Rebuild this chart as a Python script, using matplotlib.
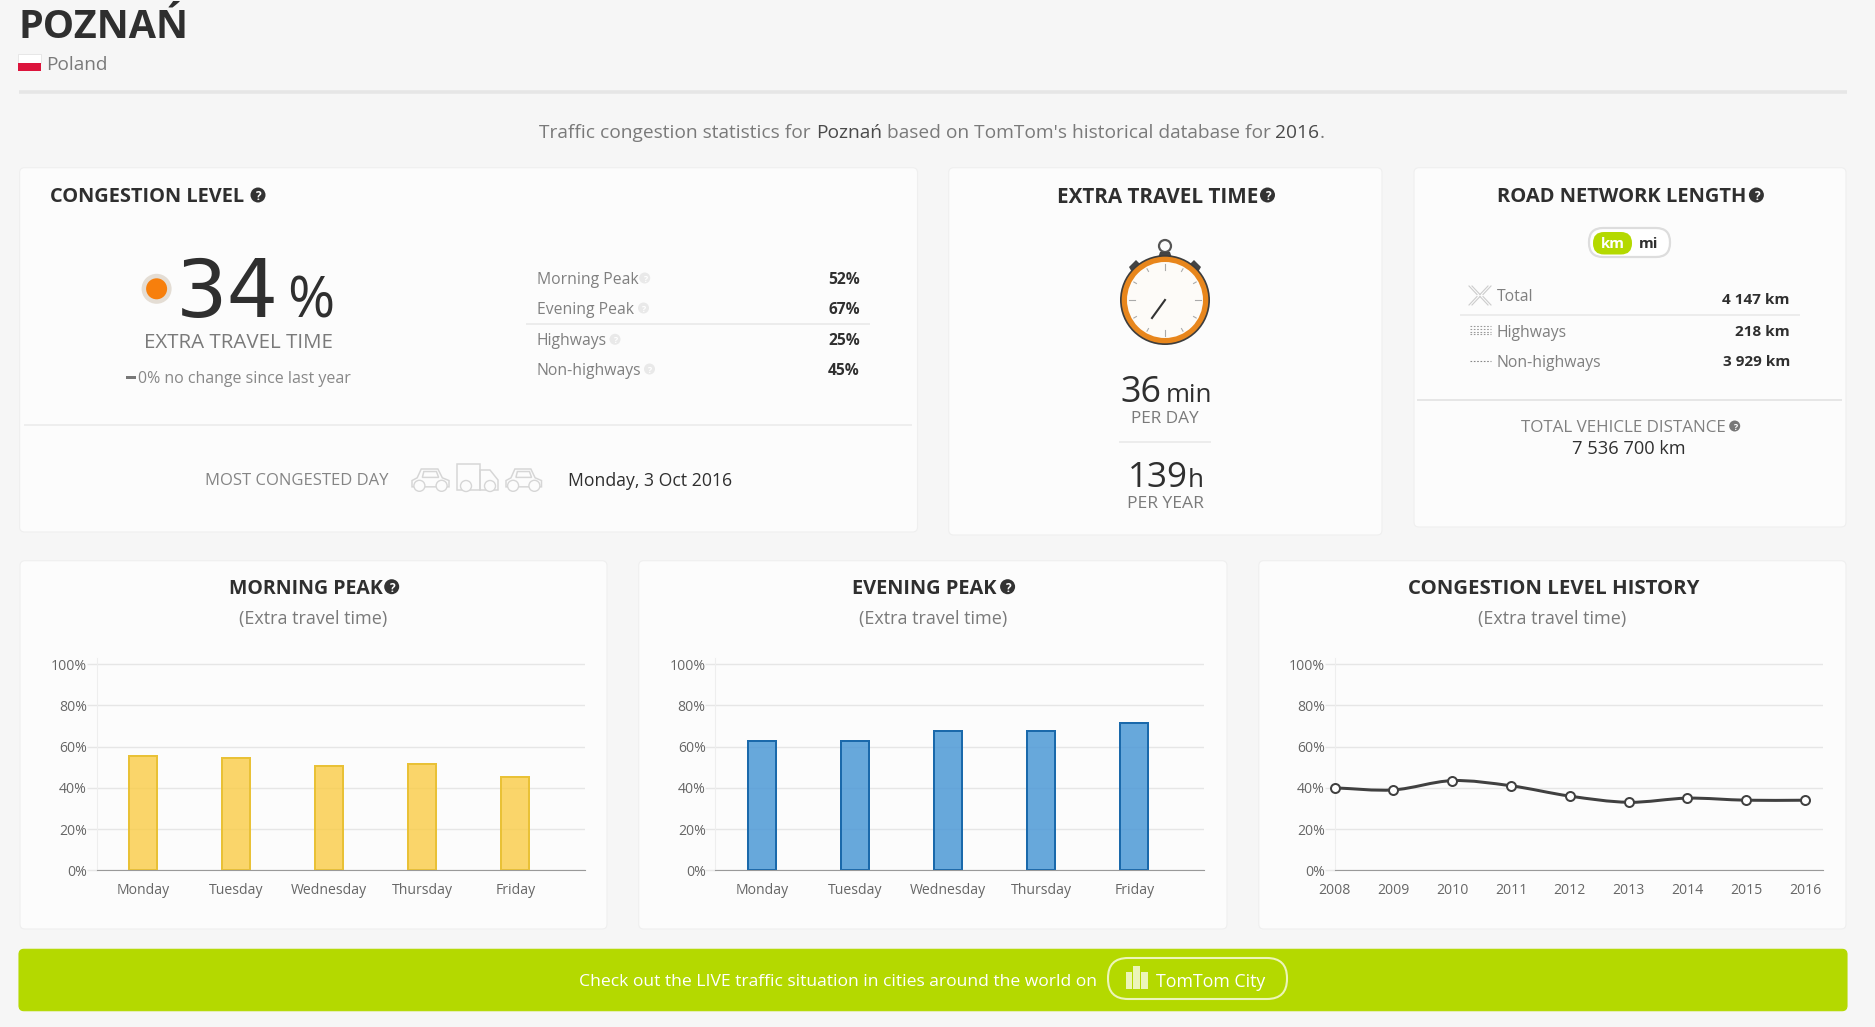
from matplotlib import pyplot as plt
from matplotlib.patches import Circle, FancyBboxPatch, PathPatch, Polygon, Rectangle
from matplotlib.path import Path
import numpy as np

W, H = 1875, 1027
plt.rcParams['font.family'] = ['Open Sans', 'DejaVu Sans']

# data
days = ['Monday', 'Tuesday', 'Wednesday', 'Thursday', 'Friday']
morning_peak = [55.5, 54.5, 50.5, 51.5, 45.5]
evening_peak = [62.5, 62.5, 67.5, 67.5, 71.5]
years = [2008, 2009, 2010, 2011, 2012, 2013, 2014, 2015, 2016]
history = [40, 39, 43.5, 41, 36, 33, 35, 34, 34]
y_ticks = [0, 20, 40, 60, 80, 100]
y_tick_labels = ['0%', '20%', '40%', '60%', '80%', '100%']

peak_rows = [('Morning Peak', '52%', 278, 644.7), ('Evening Peak', '67%', 308, 643.5),
             ('Highways', '25%', 339.3, 615), ('Non-highways', '45%', 369, 649.5)]
road_rows = [('Total', '4 147 km', 295, 298), ('Highways', '218 km', 331, 331),
             ('Non-highways', '3 929 km', 361, 361)]

DARK = '#2f2f2f'
GREY = '#7a7a7a'
BG = '#f6f6f6'
CARD = '#fcfcfc'
LIME = '#b4d900'

fig = plt.figure(figsize=(W / 100, H / 100), dpi=100, facecolor=BG)
page = fig.add_axes([0, 0, 1, 1], zorder=0)
page.set_xlim(0, W)
page.set_ylim(H, 0)
page.axis('off')


def put(x, y, s, px, color=GREY, weight='normal', ha='left', **kw):
    return page.text(x, y, s, fontsize=px * 0.72, color=color, fontweight=weight,
                     ha=ha, va='center_baseline', **kw)


def hline(x0, x1, y, color='#e8e8e8', px=1.5):
    page.plot([x0, x1], [y, y], color=color, lw=px * 0.72, solid_capstyle='butt')


def card(x0, y0, x1, y1, color=CARD, edge='#efefef'):
    page.add_patch(FancyBboxPatch((x0 + 4, y0 + 4), x1 - x0 - 8, y1 - y0 - 8,
                                  boxstyle='round,pad=4,rounding_size=5',
                                  fc=color, ec=edge, lw=0.8))


def help_mark(x, y, r=7.5, fc='#333333'):
    page.add_patch(Circle((x, y), r, fc=fc, ec='none'))
    put(x, y + 0.3, '?', r * 1.6, color='white', weight='bold', ha='center')


def outline(points, color='#d6d6d6', px=1.5):
    page.add_patch(Polygon(points, closed=True, fc='none', ec=color, lw=px * 0.72))


def wheel(x, y, r=5.5, color='#d6d6d6'):
    page.add_patch(Circle((x, y), r, fc=CARD, ec=color, lw=1.0, zorder=3))


def car(x0, x1, y0, y1):
    w, h = x1 - x0, y1 - y0
    outline([(x0, y0 + h * .85), (x0, y0 + h * .55), (x0 + w * .14, y0 + h * .42),
             (x0 + w * .25, y0), (x0 + w * .7, y0), (x0 + w * .82, y0 + h * .42),
             (x1, y0 + h * .55), (x1, y0 + h * .85)])
    outline([(x0 + w * .32, y0 + h * .12), (x0 + w * .66, y0 + h * .12),
             (x0 + w * .72, y0 + h * .4), (x0 + w * .28, y0 + h * .4)])
    wheel(x0 + w * .2, y0 + h * .8)
    wheel(x0 + w * .8, y0 + h * .8)


# header
put(19, 22.5, 'POZNAŃ', 39.5, color=DARK, weight='bold')
page.add_patch(Rectangle((18.4, 53.7), 23, 8.8, fc='white', ec='#e4e4e4', lw=0.6))
page.add_patch(Rectangle((18.4, 62.5), 23, 8.8, fc='#dc143c', ec='none'))
put(46, 63, 'Poland', 19)
hline(19, 1847, 92, color='#e6e6e6', px=3.5)

# sentence with the city in a darker tone
x = 539
renderer = fig.canvas.get_renderer()
bars_w = put(0, 0, '||', 19.2, alpha=0)
base_w = bars_w.get_window_extent(renderer).width
bars_w.remove()
for part, col in [('Traffic congestion statistics for ', GREY), ('Poznań', '#4a4a4a'),
                  (" based on TomTom's historical database for ", GREY), ('2016', '#4a4a4a'),
                  ('.', GREY)]:
    put(x, 131, part, 19.2, color=col)
    adv = put(0, 0, '|' + part + '|', 19.2, alpha=0)
    x += adv.get_window_extent(renderer).width - base_w
    adv.remove()

card(19.6, 167.7, 917.5, 532)
card(948.7, 167.7, 1382, 535)
card(1414, 167.7, 1846, 527)
card(20, 560.7, 607, 929)
card(638.7, 560.7, 1227, 929)
card(1258.8, 560.7, 1846, 929)

# congestion level card
put(50, 195, 'CONGESTION LEVEL', 20, color=DARK, weight='bold')
help_mark(258, 195)
page.add_patch(Circle((156.6, 288.8), 15, fc='#e4ddd4', ec='none'))
page.add_patch(Circle((156.6, 288.8), 10.5, fc='#f77f0c', ec='none'))
page.text(176, 317.5, '34', fontsize=81 * 0.72, color=DARK, ha='left', va='baseline',
          family=['DejaVu Sans'])
page.text(287, 317.5, '%', fontsize=57 * 0.72, color=DARK, ha='left', va='baseline')
put(238.4, 341, 'EXTRA TRAVEL TIME', 20.5, ha='center')
page.add_patch(Rectangle((125.7, 375.5), 10.7, 3.2, fc='#777777', ec='none'))
put(138, 377, '0% no change since last year', 16, color='#888888')
for label, value, y, help_x in peak_rows:
    put(536.8, y, label, 15.8, color='#808080')
    help_mark(help_x, y, r=5.5, fc='#e9e9e9')
    put(860, y, value, 15.5, color=DARK, weight='bold', ha='right')
hline(526, 869.5, 323.5)
hline(23.7, 912, 425, color='#eeeeee', px=2)
put(204.6, 479, 'MOST CONGESTED DAY', 16.6, color='#858585')
car(412, 449, 469, 490)
outline([(457, 464), (480, 464), (480, 490), (457, 490)])
outline([(480, 470), (490, 470), (498, 480), (498, 490), (480, 490)])
wheel(466, 486)
wheel(490, 486)
car(506, 541.5, 469, 490)
put(567.6, 479, 'Monday, 3 Oct 2016', 17.6, color=DARK)

# extra travel time card
put(1056.6, 195, 'EXTRA TRAVEL TIME', 20.7, color=DARK, weight='bold')
help_mark(1267.5, 195)
sw_x, sw_y = 1165, 300
page.add_patch(Circle((sw_x, 246), 6, fc='none', ec='#555555', lw=1.6))
page.add_patch(Polygon([(sw_x - 5, 252), (sw_x + 5, 252), (sw_x + 7, 258), (sw_x - 7, 258)], fc='#444444'))
page.add_patch(Polygon([(1129, 267), (1136, 260), (1142, 266), (1133, 274)], fc='#444444'))
page.add_patch(Polygon([(1201, 267), (1194, 260), (1188, 266), (1197, 274)], fc='#444444'))
page.add_patch(Circle((sw_x, sw_y), 45, fc='#3d3d3d', ec='none'))
page.add_patch(Circle((sw_x, sw_y), 43.3, fc='#e8861c', ec='none'))
page.add_patch(Circle((sw_x, sw_y), 38, fc='#fdfbf8', ec='none'))
for a in range(0, 360, 30):
    r0, r1 = (30, 36) if a % 90 == 0 else (33, 36)
    ca, sa = np.cos(np.radians(a)), np.sin(np.radians(a))
    page.plot([sw_x + r0 * ca, sw_x + r1 * ca], [sw_y + r0 * sa, sw_y + r1 * sa],
              color='#aaaaaa', lw=0.8, zorder=3)
page.plot([sw_x, sw_x - 13], [sw_y, sw_y + 18], color='#333333', lw=1.5, zorder=3)
page.text(1120.5, 401.7, '36', fontsize=36 * 0.72, color=DARK, va='baseline')
page.text(1166, 401.7, 'min', fontsize=26 * 0.72, color=DARK, va='baseline')
put(1165, 417, 'PER DAY', 17.3, ha='center')
hline(1118.7, 1211, 442)
page.text(1127.7, 486.7, '139', fontsize=35 * 0.72, color=DARK, va='baseline')
page.text(1188, 486.7, 'h', fontsize=26 * 0.72, color=DARK, va='baseline')
put(1165, 502, 'PER YEAR', 17.5, ha='center')

# road network card
put(1496.6, 195, 'ROAD NETWORK LENGTH', 20.2, color=DARK, weight='bold')
help_mark(1756.4, 195)
page.add_patch(FancyBboxPatch((1603, 242), 53, 1, boxstyle='round,pad=14,rounding_size=14',
                              fc='white', ec='#dddddd', lw=1.6))
page.add_patch(FancyBboxPatch((1604, 243), 17, 0.5, boxstyle='round,pad=11,rounding_size=11',
                              fc=LIME, ec='none'))
put(1613, 243, 'km', 15, color='white', weight='bold', ha='center')
put(1649, 243, 'mi', 15, color=DARK, weight='bold', ha='center')
for label, value, y, vy in road_rows:
    put(1496.6, y, label, 15.8, color='#808080')
    put(1790, vy, value, 15.2, color=DARK, weight='bold', ha='right')
for d in [(-1, -1), (1, -1), (-1, 1), (1, 1)]:
    for off in (0, 3):
        page.plot([1480 + d[0] * off, 1480 + d[0] * (off + 8)],
                  [295.5 + d[1] * 1, 295.5 + d[1] * 9.5], color='#cccccc', lw=0.8)
for yy in (326, 329, 331.5, 334):
    page.plot([1470, 1490.5], [yy, yy], color='#999999', lw=0.8, ls=(0, (1.5, 1.5)))
page.plot([1470, 1490.5], [361, 361], color='#888888', lw=0.8, ls=(0, (1.5, 1.5)))
hline(1460.4, 1799.8, 315)
hline(1417, 1842, 399.7, color='#e6e6e6', px=2)
put(1520.7, 426, 'TOTAL VEHICLE DISTANCE', 17, color='#808080')
help_mark(1734.7, 426, r=5.5, fc='#777777')
put(1629, 446.7, '7 536 700 km', 18.3, color=DARK, ha='center')

# chart titles
for title, size, x0, help_x, cx in [('MORNING PEAK', 19.5, 229.4, 391.7, 313.4),
                                    ('EVENING PEAK', 20, 851.8, 1007.6, 933),
                                    ('CONGESTION LEVEL HISTORY', 20.4, 1407.5, None, 1552)]:
    put(x0, 586.7, title, size, color=DARK, weight='bold')
    if help_x:
        help_mark(help_x, 586.7)
    put(cx, 617, '(Extra travel time)', 18, ha='center')

# banner
card(19, 949.3, 1847, 1010.7, color=LIME, edge=LIME)
put(578.6, 980, 'Check out the LIVE traffic situation in cities around the world on', 17.5, color='white')
page.add_patch(FancyBboxPatch((1128, 978), 139, 1, boxstyle='round,pad=20,rounding_size=20',
                              fc='none', ec='#ecf5b8', lw=1.5))
for bx, by, bw in [(1125.5, 972, 6), (1132.5, 966, 7), (1140.5, 972, 7)]:
    page.add_patch(Rectangle((bx, by), bw, 989 - by, fc='#ecf5b8', ec='none'))
put(1156, 980, 'TomTom City', 17.7, color='white')


def chart_axes(left, right):
    top, bottom = 658, 870.3
    ax = fig.add_axes([left / W, (H - bottom) / H, (right - left) / W, (bottom - top) / H], zorder=2)
    ax.patch.set_alpha(0)
    ax.set_ylim(0, 103)
    ax.set_yticks(y_ticks, y_tick_labels)
    ax.tick_params(axis='y', length=7, width=1, color='#e6e6e6', labelsize=14 * 0.72,
                   labelcolor='#666666', pad=0)
    ax.tick_params(axis='x', length=0, labelsize=14 * 0.72, labelcolor='#666666', pad=9)
    ax.grid(axis='y', color='#e6e6e6', lw=1.0)
    ax.set_axisbelow(True)
    for name in ('top', 'right'):
        ax.spines[name].set_visible(False)
    ax.spines['left'].set_color('#eeeeee')
    ax.spines['bottom'].set_color('#999999')
    return ax


def peak_chart(left, right, values, fill, edge):
    ax = chart_axes(left, right)
    pos = np.arange(len(days))
    ax.bar(pos, values, width=0.3, facecolor=fill, edgecolor=edge, linewidth=2 * 0.72)
    ax.set_xlim(-0.5, 4.75)
    ax.set_xticks(pos, days)
    return ax


peak_chart(96.8, 585, morning_peak, (0.98, 0.80, 0.27, 0.8), '#e9c136')
peak_chart(715.4, 1204, evening_peak, (0.30, 0.60, 0.84, 0.85), '#1a69ab')

ax3 = chart_axes(1334.5, 1822.7)
ax3.set_xlim(2008, 2016.3)
ax3.set_xticks(years, [str(v) for v in years])
# smooth line like the site's spline: bezier handles taken from neighbouring points
verts, codes = [(years[0], history[0])], [Path.MOVETO]
for i in range(len(years) - 1):
    prev_i, next_i = max(i - 1, 0), min(i + 2, len(years) - 1)
    slope0 = (history[i + 1] - history[prev_i]) / (years[i + 1] - years[prev_i])
    slope1 = (history[next_i] - history[i]) / (years[next_i] - years[i])
    verts += [(years[i] + 1 / 3, history[i] + slope0 / 3),
              (years[i + 1] - 1 / 3, history[i + 1] - slope1 / 3),
              (years[i + 1], history[i + 1])]
    codes += [Path.CURVE4] * 3
ax3.add_patch(PathPatch(Path(verts, codes), fc='none', ec='#404040', lw=3 * 0.72, clip_on=False))
ax3.plot(years, history, ls='none', marker='o', ms=9 * 0.72, mfc='white', mec='#404040',
         mew=2 * 0.72, clip_on=False, zorder=4)

fig.savefig('out.png', dpi=100, facecolor=BG)
